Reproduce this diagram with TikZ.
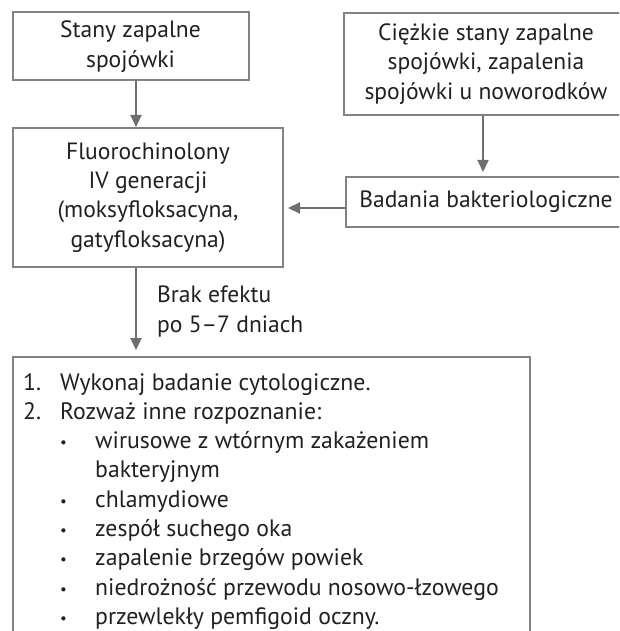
\documentclass[tikz,border=0pt]{standalone}
\usepackage{fontspec}
\setmainfont{PT Sans}
\usetikzlibrary{arrows.meta}
\definecolor{boxgray}{HTML}{808285}
\definecolor{arrgray}{HTML}{6D6E71}
\definecolor{txt}{HTML}{231F20}
\newlength\mwa \newlength\mwb \newlength\mwc
\newlength\mwd \newlength\mwe \newlength\mwf \newlength\mwg
\settowidth\mwa{\fontsize{10}{12}\selectfont Wykonaj badanie cytologiczne.}
\settowidth\mwb{\fontsize{10}{12}\selectfont wirusowe z wtórnym zakażeniem}
\settowidth\mwc{\fontsize{10}{12}\selectfont niedrożność przewodu nosowo-łzowego}
\settowidth\mwd{\fontsize{10}{12}\selectfont Badania bakteriologiczne}
\settowidth\mwe{\fontsize{10}{12}\selectfont spojówki u noworodków}
\settowidth\mwf{\fontsize{10}{12}\selectfont (moksyfloksacyna,}
\settowidth\mwg{\fontsize{10}{12}\selectfont Stany zapalne}
\pgfmathsetmacro\lfs{(312/\mwa + 331/\mwb + 405/\mwc)/3*10}
\pgfmathsetmacro\bfs{(254/\mwd + 246/\mwe + 184/\mwf + 136/\mwg)/4*10}
\newcommand{\smbul}{\makebox[35pt][l]{\raisebox{1pt}{\fontsize{15}{15}\selectfont\textbullet}}}
\tikzset{
  box/.style={draw=boxgray, line width=2pt, rectangle, align=center, inner sep=0pt, text=txt,
    font=\fontsize{\bfs}{29.4}\selectfont},
  conn/.style={draw=arrgray, line width=2pt, -{Triangle[length=12pt,width=11pt]}},
  txtnode/.style={inner sep=0pt, text=txt, anchor=base west}
}
\begin{document}
\begin{tikzpicture}[x=1pt,y=-1pt]
\useasboundingbox (0,0) rectangle (619,631);
\clip (0,0) rectangle (619,631);
\node[box, minimum width=236pt, minimum height=68pt] (b1) at (130.5,46.5) {Stany zapalne\\spojówki};
\node[box, minimum width=284pt, minimum height=102pt] (b2) at (486,64) {Ciężkie stany zapalne\\spojówki, zapalenia\\spojówki u noworodków};
\node[box, minimum width=270pt, minimum height=139pt] (b3) at (148,197.5) {Fluorochinolony\\IV generacji\\(moksyfloksacyna,\\gatyfloksacyna)};
\node[box, minimum width=280pt, minimum height=50pt] (b4) at (486,202) {Badania bakteriologiczne};
\node[inner sep=0pt, minimum width=517pt, minimum height=300pt, anchor=north west] (b5) at (13,357) {};
\draw[draw=boxgray, line width=2pt] (b5.south west) -- (b5.north west) -- (b5.north east) -- (b5.south east);
\coordinate (ax) at (136,0);
\coordinate (bx) at (483,0);
\coordinate (ay) at (0,208);
\draw[conn] (b1.south -| ax) -- (b3.north -| ax);
\draw[conn, shorten >=4pt] (b2.south -| bx) -- (b4.north -| bx);
\draw[conn, shorten >=4pt] (b4.west |- ay) -- (b3.east |- ay);
\draw[conn, shorten >=7pt] (b3.south -| ax) -- (b5.north -| ax);
\node[txtnode, font=\fontsize{\bfs}{30}\selectfont] (lbl) at (157,302) {\parbox[t]{200pt}{\raggedright Brak efektu\\po 5–7 dniach}};
\node[txtnode, font=\fontsize{\lfs}{29.3}\selectfont] (list) at (23,390) {\parbox[t]{600pt}{\raggedright
\makebox[37pt][l]{1.}Wykonaj badanie cytologiczne.\\
\makebox[37pt][l]{2.}Rozważ inne rozpoznanie:\\
\hspace*{37pt}\smbul wirusowe z wtórnym zakażeniem\\
\hspace*{72pt}bakteryjnym\\
\hspace*{37pt}\smbul chlamydiowe\\
\hspace*{37pt}\smbul zespół suchego oka\\
\hspace*{37pt}\smbul zapalenie brzegów powiek\\
\hspace*{37pt}\smbul niedrożność przewodu nosowo-łzowego\\
\hspace*{37pt}\smbul przewlekły pemfigoid oczny.}};
\end{tikzpicture}
\end{document}
